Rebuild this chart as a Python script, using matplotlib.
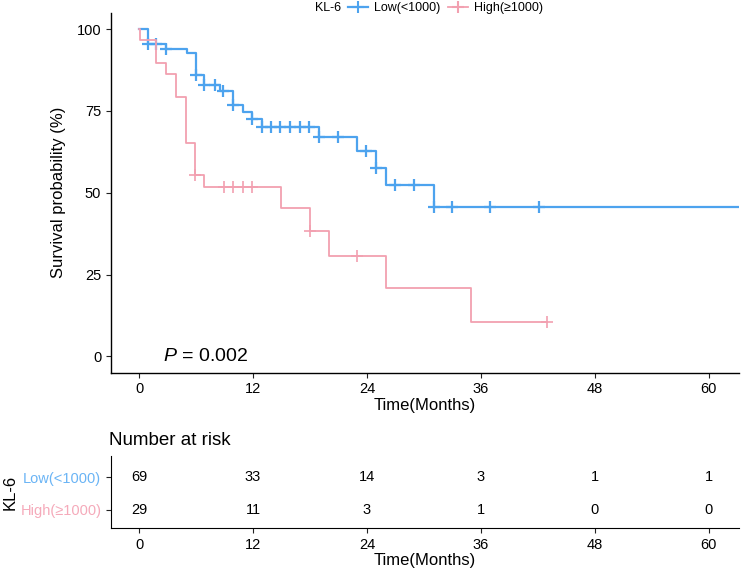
import numpy as np
import matplotlib
matplotlib.use("Agg")
import matplotlib.pyplot as plt
from matplotlib.lines import Line2D

plt.rcParams['font.family'] = ['Liberation Sans', 'DejaVu Sans']
plt.rcParams['mathtext.fontset'] = 'custom'
plt.rcParams['mathtext.it'] = 'Liberation Sans:italic'
plt.rcParams['mathtext.rm'] = 'Liberation Sans'

# ---- data ----
groups = ['Low(<1000)', 'High(≥1000)']
colors = ['#4DA3EE', '#F2A0B0']
label_colors = ['#6AB4F5', '#F5AABA']

low_times = [0, 0.9, 2.85, 5.0, 5.95, 6.85, 8.5, 9.9, 10.95, 11.9, 12.9, 19.0, 23.0, 25.0, 26.0, 31.05, 64.0]
low_surv = [100, 95.3, 94.0, 92.7, 86.1, 82.8, 81.0, 76.9, 74.7, 72.4, 70.1, 66.9, 62.6, 57.4, 52.4, 45.7, 45.7]
low_censor = [0.9, 1.75, 2.85, 5.95, 6.85, 7.95, 8.8, 9.9, 11.9, 12.9, 13.85, 14.85, 15.9,
              16.95, 17.9, 19.0, 20.95, 23.9, 25.0, 26.95, 28.9, 31.05, 33.0, 37.0, 42.1]

high_times = [0, 0.15, 1.8, 2.85, 3.9, 4.9, 5.9, 6.85, 15.0, 18.0, 20.0, 26.0, 35.0, 43.0]
high_surv = [100, 96.6, 89.7, 86.2, 79.1, 65.2, 55.4, 51.7, 45.2, 38.4, 30.8, 20.8, 10.4, 10.4]
high_censor = [5.9, 8.9, 9.9, 11.0, 11.9, 18.0, 22.9, 43.0]

risk_times = [0, 12, 24, 36, 48, 60]
risk_low = [69, 33, 14, 3, 1, 1]
risk_high = [29, 11, 3, 1, 0, 0]

p_text = r'$\it{P}$ = 0.002'
legend_title = 'KL-6'

# ---- figure ----
W, H = 744, 576
fig = plt.figure(figsize=(W / 100, H / 100), dpi=100)

xlim = (-2.95, 63.2)
ax = fig.add_axes([111 / W, 1 - 372.7 / H, 628.3 / W, 360 / H])
ax2 = fig.add_axes([111 / W, 1 - 528.3 / H, 628.3 / W, 72.3 / H])

series = [(low_times, low_surv, low_censor), (high_times, high_surv, high_censor)]
handles = []
for (t, s, c), col, name in zip(series, colors, groups):
    t = np.array(t); s = np.array(s); c = np.array(c)
    lw = 1.6 if col == colors[0] else 1.3
    ax.step(t, s, where='post', color=col, lw=lw, clip_on=True)
    idx = np.searchsorted(t, c, side='right') - 1
    ax.plot(c, s[idx], linestyle='none', marker='+', color=col, markersize=8,
            markeredgewidth=1.6 if col == colors[0] else 1.2)
    handles.append(Line2D([], [], color=col, lw=lw, marker='+', markersize=8, markeredgewidth=1.5))

ax.set_xlim(*xlim)
ax.set_ylim(-5, 105)
ax.set_xticks(risk_times)
ax.set_yticks([0, 25, 50, 75, 100])
ax.tick_params(labelsize=10.5, length=3.5, width=0.8, colors='#222222', labelcolor='black')
for sp in ['top', 'right']:
    ax.spines[sp].set_visible(False)
for sp in ['left', 'bottom']:
    ax.spines[sp].set_linewidth(1.0)
ax.set_xlabel('Time(Months)', fontsize=12, labelpad=1)
ax.set_ylabel('Survival probability (%)', fontsize=12, labelpad=8)
ax.text(2.5, 0, p_text, fontsize=14, ha='left', va='center')

# legend
fig.text(328 / W, 1 - 8 / H, legend_title, fontsize=9, ha='center', va='center')
leg = fig.legend(handles, groups, loc='center left', bbox_to_anchor=(348 / W, 1 - 8 / H),
                 ncol=2, frameon=False, fontsize=9, handlelength=1.6, handletextpad=0.5,
                 columnspacing=0.6, borderpad=0, borderaxespad=0)

# risk table
ax2.set_xlim(*xlim)
ax2.set_ylim(0.44, 2.65)
for i, v in enumerate(risk_low):
    ax2.text(risk_times[i], 2, str(v), ha='center', va='center', fontsize=10.5)
for i, v in enumerate(risk_high):
    ax2.text(risk_times[i], 1, str(v), ha='center', va='center', fontsize=10.5)
ax2.set_xticks(risk_times)
ax2.set_yticks([2, 1])
ax2.set_yticklabels(groups, fontsize=10.5)
ax2.tick_params(axis='x', labelsize=10.5, length=3.5, width=0.8, colors='#222222', labelcolor='black')
ax2.tick_params(axis='y', length=3.5, width=0.8, colors='#222222')
for lbl, col in zip(ax2.get_yticklabels(), label_colors):
    lbl.set_color(col)
for sp in ['top', 'right']:
    ax2.spines[sp].set_visible(False)
ax2.set_xlabel('Time(Months)', fontsize=12, labelpad=1)
ax2.set_ylabel(legend_title, fontsize=12, labelpad=2)
ax2.set_title('Number at risk', fontsize=13.5, loc='left', x=-0.003, pad=8)

fig.savefig('out.png', dpi=100)
